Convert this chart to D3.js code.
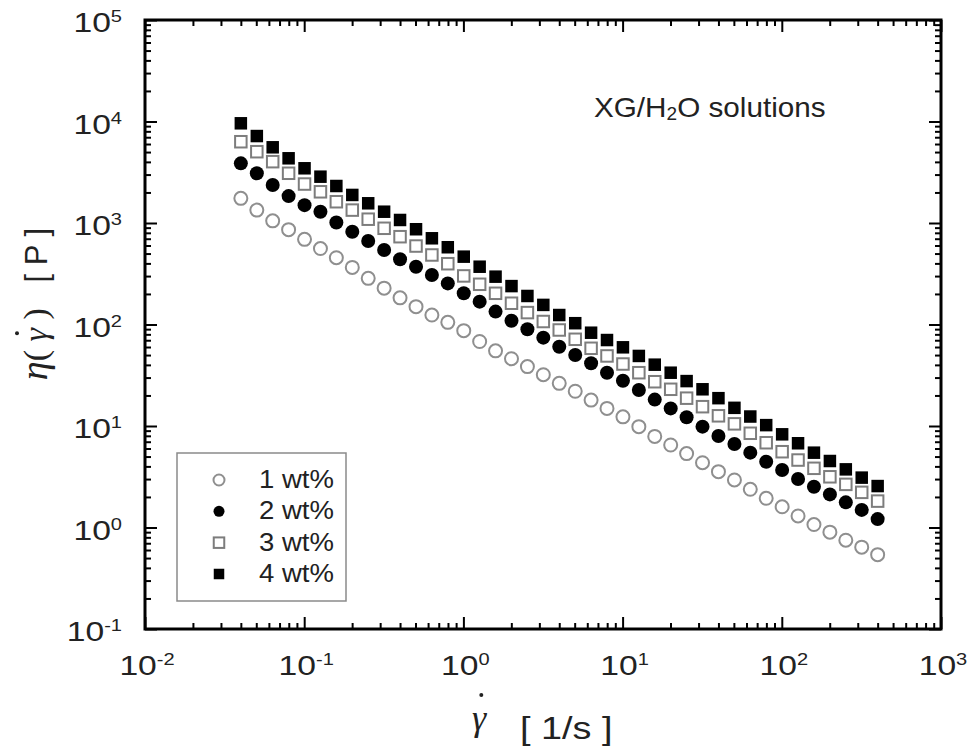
<!DOCTYPE html>
<html><head><meta charset="utf-8">
<script src="https://cdn.jsdelivr.net/npm/d3@7/dist/d3.min.js"></script>
<style>body{margin:0;background:#fff}svg{display:block}</style>
</head><body>
<svg id="chart" width="969" height="748"></svg>
<script>
// ---------------- data ----------------
const shearRate = [0.0400,0.0504,0.0634,0.0798,0.1005,0.1265,0.1592,0.2005,0.2524,0.3177,
  0.400,0.504,0.634,0.798,1.005,1.265,1.592,2.005,2.524,3.177,
  4.00,5.04,6.34,7.98,10.05,12.65,15.92,20.05,25.24,31.77,
  40.0,50.4,63.4,79.8,100.5,126.5,159.2,200.5,252.4,317.7,400];
const eta1wt = [1750,1340,1050,860,690,560,455,365,285,228,
  183,150,124,105,87,68,55,46,38.5,32,
  26.3,22,18,14.9,12.3,9.85,7.9,6.5,5.35,4.35,
  3.55,2.94,2.38,1.94,1.6,1.3,1.07,0.9,0.75,0.64,0.54];
const eta2wt = [3870,3090,2370,1840,1500,1290,1010,820,665,542,
  439,371,307,254,203,168,134,109,89.7,74.2,
  60.4,50.1,41.5,33.5,27.9,22.6,18.2,14.9,12.2,9.85,
  7.96,6.65,5.46,4.45,3.69,3.01,2.52,2.12,1.77,1.49,1.21];
const eta3wt = [6320,5040,4020,3090,2420,2030,1620,1340,1090,887,
  733,593,484,397,301,249,203,162,131,107,
  88.3,71.5,58.3,49.0,40.8,33.5,27.3,23.0,18.8,15.5,
  12.6,10.5,8.48,6.84,5.58,4.62,3.83,3.16,2.66,2.22,1.82];
const eta4wt = [9600,7190,5570,4340,3460,2860,2315,1890,1564,1292,
  1071,868,707,577,466,371,296,239,191,156,
  124,103,83,70.3,59.6,49,40.2,33.5,27.7,23,
  18.8,15.1,12.4,10.2,8.28,6.76,5.46,4.52,3.74,3.1,2.56];
const seriesNames = ["1 wt%","2 wt%","3 wt%","4 wt%"];
const xTickExponents = [-2,-1,0,1,2,3];
const yTickExponents = [-1,0,1,2,3,4,5];
const annotationText = ["XG/H","2","O solutions"];

// ---------------- layout ----------------
const svg = d3.select("#chart");
const L = 145, R = 941, T = 20, B = 629;
const x = d3.scaleLog().domain([1e-2, 1e3]).range([L, R]);
const y = d3.scaleLog().domain([1e-1, 1e5]).range([B, T]);
const SANS = "'Liberation Sans', Arial, Helvetica, sans-serif";
const SERIF = "'Liberation Serif', 'Times New Roman', serif";
const TXT = "#222";

function tickSets(exps) {
  const major = exps.map(e => Math.pow(10, e));
  const minor = [];
  for (let i = 0; i < exps.length - 1; i++)
    for (let d = 2; d <= 9; d++) minor.push(d * Math.pow(10, exps[i]));
  return {major, minor};
}
const xt = tickSets(xTickExponents), yt = tickSets(yTickExponents);

function drawAxis(axisFn, scale, vals, len, tx, ty) {
  svg.append("g").attr("transform", `translate(${tx},${ty})`)
    .call(axisFn(scale).tickValues(vals).tickSize(-len).tickFormat(""))
    .call(g => g.select(".domain").remove())
    .call(g => g.selectAll("line").attr("stroke", "#000").attr("stroke-width", 2));
}
[[xt.major, 12], [xt.minor, 6]].forEach(([v, l]) => {
  drawAxis(d3.axisBottom, x, v, l, 0, B);
  drawAxis(d3.axisTop, x, v, l, 0, T);
});
[[yt.major, 12], [yt.minor, 6]].forEach(([v, l]) => {
  drawAxis(d3.axisLeft, y, v, l, L, 0);
  drawAxis(d3.axisRight, y, v, l, R, 0);
});
svg.append("rect").attr("x", L).attr("y", T).attr("width", R - L).attr("height", B - T)
  .attr("fill", "none").attr("stroke", "#000").attr("stroke-width", 3);

// tick labels
function powLabel(px, py, exp, anchor, sx) {
  const g = svg.append("g").attr("transform", `translate(${px},${py}) scale(${sx},1)`);
  const t = g.append("text").attr("text-anchor", anchor).attr("font-family", SANS)
    .attr("font-size", 28.5).attr("fill", TXT);
  t.append("tspan").text("10");
  t.append("tspan").attr("font-size", 17).attr("dy", -10).text(exp < 0 ? "-" + Math.abs(exp) : String(exp));
}
xTickExponents.forEach(e => powLabel(x(Math.pow(10, e)) + 2, 675, e, "middle", 1.18));
yTickExponents.forEach(e => powLabel(122, y(Math.pow(10, e)) + 12, e, "end", 1.18));

// ---------------- series ----------------
const seriesValues = [eta1wt, eta2wt, eta3wt, eta4wt];
const seriesStyle = [
  {shape: "circle", fill: "#fff", stroke: "#8f8f8f", size: 6.5},
  {shape: "circle", fill: "#000", stroke: "none", size: 7},
  {shape: "square", fill: "#fff", stroke: "#7d7d7d", size: 11.5},
  {shape: "square", fill: "#000", stroke: "none", size: 12.5}
];
function drawMarker(sel, st) {
  if (st.shape === "circle") {
    sel.append("circle").attr("r", st.size).attr("fill", st.fill)
      .attr("stroke", st.stroke).attr("stroke-width", 2);
  } else {
    sel.append("rect").attr("x", -st.size / 2).attr("y", -st.size / 2)
      .attr("width", st.size).attr("height", st.size).attr("fill", st.fill)
      .attr("stroke", st.stroke).attr("stroke-width", 2);
  }
}
seriesValues.forEach((vals, si) => {
  const pts = shearRate.map((sr, i) => ({sr, v: vals[i]}));
  const g = svg.append("g");
  g.selectAll("g.pt").data(pts).enter().append("g").attr("class", "pt")
    .attr("transform", d => `translate(${x(d.sr)},${y(d.v)})`)
    .each(function () { drawMarker(d3.select(this), seriesStyle[si]); });
});

// ---------------- legend ----------------
svg.append("rect").attr("x", 177).attr("y", 453).attr("width", 169).attr("height", 148)
  .attr("fill", "#fff").attr("stroke", "#8a8a8a").attr("stroke-width", 1.5);
const legendY = d3.scaleLinear().domain([0, 3]).range([480, 574]);
seriesNames.forEach((name, i) => {
  const st = Object.assign({}, seriesStyle[i], {size: seriesStyle[i].shape === "circle" ? 5.5 : 10.5});
  const g = svg.append("g").attr("transform", `translate(219,${legendY(i)})`);
  drawMarker(g, st);
  svg.append("g").attr("transform", `translate(259,${legendY(i) + 8}) scale(1.1,1)`)
    .append("text").attr("font-family", SANS).attr("font-size", 25).attr("fill", TXT).text(name);
});

// ---------------- annotation ----------------
{
  const t = svg.append("g").attr("transform", "translate(594,117) scale(1.06,1)")
    .append("text").attr("font-family", SANS).attr("font-size", 28).attr("fill", TXT);
  t.append("tspan").text(annotationText[0]);
  t.append("tspan").attr("font-size", 18).attr("dy", 3).text(annotationText[1]);
  t.append("tspan").attr("dy", -3).text(annotationText[2]);
}

// ---------------- axis titles ----------------
// x title
{
  const gT = svg.append("text").attr("x", 472).attr("y", 730).attr("font-family", SERIF)
    .attr("font-style", "italic").attr("font-size", 36).attr("fill", TXT).text("γ");
  const bb = gT.node().getBBox();
  svg.append("circle").attr("cx", bb.x + bb.width * 0.62).attr("cy", 695).attr("r", 2).attr("fill", TXT);
  svg.append("g").attr("transform", "translate(520,739) scale(1.22,1)")
    .append("text").attr("font-family", SANS).attr("font-size", 31).attr("fill", TXT)
    .attr("xml:space", "preserve").text("[ 1/s ]");
}
// y title
{
  const g = svg.append("g").attr("transform", "translate(47,304) rotate(-90)");
  const t = g.append("text").attr("text-anchor", "middle").attr("fill", TXT)
    .attr("xml:space", "preserve");
  t.append("tspan").attr("font-family", SERIF).attr("font-style", "italic").attr("font-size", 38).text("η");
  t.append("tspan").attr("font-family", SERIF).attr("font-size", 34).text("( ");
  t.append("tspan").attr("font-family", SERIF).attr("font-style", "italic").attr("font-size", 34).text("γ");
  t.append("tspan").attr("font-family", SERIF).attr("font-size", 34).text(" )");
  t.append("tspan").attr("font-family", SANS).attr("font-size", 31).text("   [ P ]");
  const ext = t.node().getExtentOfChar(3);
  g.append("circle").attr("cx", ext.x + ext.width * 0.62).attr("cy", -30).attr("r", 2).attr("fill", TXT);
}
</script>
</body></html>
